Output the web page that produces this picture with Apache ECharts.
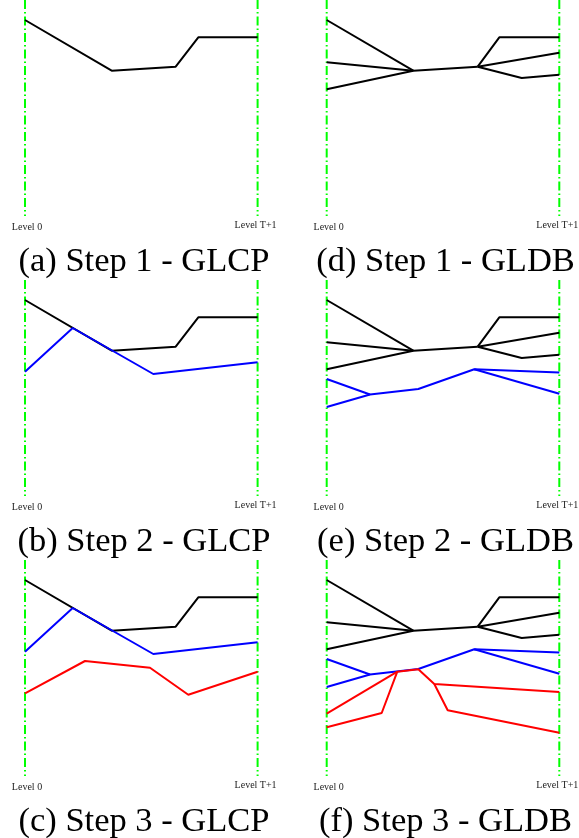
<!DOCTYPE html>
<html>
<head>
<meta charset="utf-8">
<script src="https://cdn.jsdelivr.net/npm/echarts@6/dist/echarts.min.js"></script>
<style>html,body{margin:0;padding:0;background:#fff;}#c{width:579px;height:838px;}</style>
</head>
<body>
<div id="c"></div>
<script>
// x: distance from "Level 0" line (0) to "Level T+1" line (232.6); y: depth from top of panel (inverted)
const levelTicks = [0, 232.6];
const levelLabels = ['Level 0', 'Level T+1'];
const captions = [
  ['(a) Step 1 - GLCP', '(b) Step 2 - GLCP', '(c) Step 3 - GLCP'],
  ['(d) Step 1 - GLDB', '(e) Step 2 - GLDB', '(f) Step 3 - GLDB']
];

// GLCP: one path per step
const glcpBlack = [[0, 20], [86.7, 70.7], [150.7, 66.7], [173.3, 37.3], [232.6, 37.3]];
const glcpBlue = [[0, 91.7], [47.7, 48], [128.3, 94], [232.6, 82.3]];
const glcpRed = [[0, 133.3], [60, 101], [125, 107.7], [163.3, 134.7], [232.6, 111.7]];

// GLDB: bundles of branching paths per step
const gldbBlack = [
  [[0, 20], [86.6, 70.7]],
  [[0, 62.3], [86.6, 70.7]],
  [[0, 89.3], [86.6, 70.7], [151, 66.7]],
  [[151, 66.7], [172.6, 37.3], [232.6, 37.3]],
  [[151, 66.7], [232.6, 52.7]],
  [[151, 66.7], [195, 78], [232.6, 74.7]]
];
const gldbBlue = [
  [[0, 99], [43.3, 114.5]],
  [[0, 127], [43.3, 114.5], [91.6, 109], [147.6, 89.3], [232.6, 92.5]],
  [[147.6, 89.3], [232.6, 113.8]]
];
const gldbRed = [
  [[0, 153.7], [70.6, 111.7]],
  [[0, 167.3], [55, 153], [70.6, 111.7], [91.6, 109.3], [107.6, 124], [232.6, 132]],
  [[107.6, 124], [121, 150.3], [232.6, 172.7]]
];

const colLeft = [25, 326.7];
const rowTop = [0, 280, 560];
const plotW = 232.6, plotH = 216;
const serif = 'Liberation Serif, DejaVu Serif, serif';

const grids = [], xAxes = [], yAxes = [], series = [], titles = [];
let gi = 0;
function pathSeries(idx, data, color) {
  series.push({
    type: 'line', xAxisIndex: idx, yAxisIndex: idx, data: data,
    showSymbol: false, symbol: 'none', clip: false, silent: true,
    lineStyle: { color: color, width: 2 }, z: 3
  });
}
for (let c = 0; c < 2; c++) {
  for (let r = 0; r < 3; r++) {
    const idx = gi++;
    grids.push({ left: colLeft[c], top: rowTop[r], width: plotW, height: plotH, containLabel: false, outerBoundsMode: 'none' });
    xAxes.push({
      type: 'value', gridIndex: idx, min: 0, max: plotW,
      axisLine: { show: false }, axisTick: { show: false }, splitLine: { show: false },
      axisLabel: {
        show: true, customValues: levelTicks, margin: 4,
        fontFamily: serif, fontSize: 10, color: '#222',
        formatter: function (v) { return v < 1 ? '{a|' + levelLabels[0] + '}' : '{b|' + levelLabels[1] + '}'; },
        rich: {
          a: { fontFamily: serif, fontSize: 10, color: '#222', padding: [2, 0, 0, 4] },
          b: { fontFamily: serif, fontSize: 10, color: '#222', padding: [0, 4, 2, 0] }
        }
      }
    });
    yAxes.push({
      type: 'value', gridIndex: idx, min: 0, max: plotH, inverse: true, show: false
    });
    // green level boundaries
    levelTicks.forEach(function (t) {
      series.push({
        type: 'line', xAxisIndex: idx, yAxisIndex: idx, data: [[t, 0], [t, plotH]],
        showSymbol: false, symbol: 'none', clip: false, silent: true,
        lineStyle: { color: '#00ff00', width: 2, type: [9, 3, 1.5, 3] }, z: 2
      });
    });
    if (c === 0) {
      pathSeries(idx, glcpBlack, '#000000');
      if (r >= 1) pathSeries(idx, glcpBlue, '#0000ff');
      if (r >= 2) pathSeries(idx, glcpRed, '#ff0000');
    } else {
      gldbBlack.forEach(function (p) { pathSeries(idx, p, '#000000'); });
      if (r >= 1) gldbBlue.forEach(function (p) { pathSeries(idx, p, '#0000ff'); });
      if (r >= 2) gldbRed.forEach(function (p) { pathSeries(idx, p, '#ff0000'); });
    }
    titles.push({
      text: captions[c][r], left: c === 0 ? 144 : 445.5, top: rowTop[r] + 244, textAlign: 'center',
      padding: 0,
      textStyle: { fontFamily: serif, fontSize: 34.5, fontWeight: 'normal', color: '#000' }
    });
  }
}

const chart = echarts.init(document.getElementById('c'), null, { renderer: 'canvas' });
chart.setOption({
  animation: false,
  backgroundColor: '#ffffff',
  title: titles,
  grid: grids,
  xAxis: xAxes,
  yAxis: yAxes,
  series: series
});
</script>
</body>
</html>
